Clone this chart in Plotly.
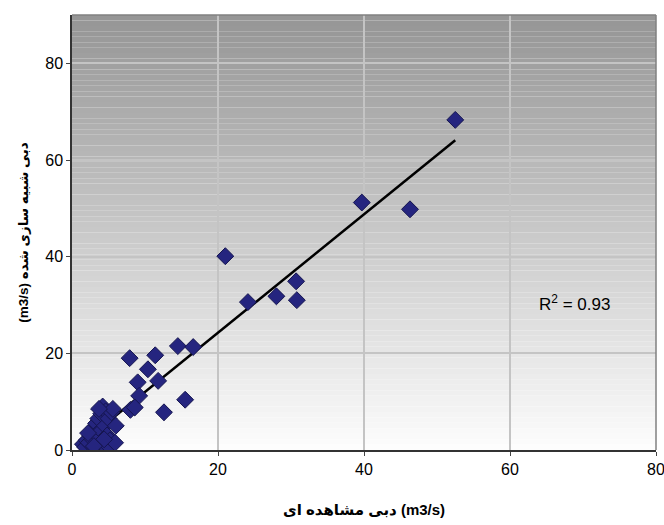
import numpy as np
import plotly.graph_objects as go

# Observed (x) and simulated (y) discharge, m3/s
observed = [52.5, 39.7, 46.3, 21.0, 30.7, 30.8, 28.0, 24.1, 14.5, 16.6,
            11.4, 7.9, 10.4, 9.0, 11.8, 9.2, 15.5, 8.0, 8.6, 12.6,
            1.5, 1.8, 2.0, 2.3, 2.5, 2.8, 3.0, 3.2, 3.3, 3.5,
            3.6, 3.8, 4.0, 4.0, 4.2, 4.3, 4.5, 4.6, 4.8, 5.0,
            5.2, 5.4, 5.6, 5.0, 5.9, 4.4, 3.0, 2.2, 6.0, 3.7]
simulated = [68.3, 51.2, 49.8, 40.1, 34.9, 31.0, 31.8, 30.6, 21.5, 21.3,
             19.6, 19.0, 16.7, 14.0, 14.3, 11.2, 10.4, 8.3, 8.8, 7.8,
             1.2, 0.6, 2.0, 1.5, 3.0, 2.2, 4.5, 1.0, 5.5, 3.5,
             6.5, 2.5, 7.5, 4.0, 9.0, 1.2, 5.0, 8.0, 3.0, 6.5,
             2.0, 7.8, 8.5, 0.8, 1.5, 2.2, 0.8, 3.5, 5.0, 8.5]
r2_label = "R<sup>2</sup> = 0.93"
x_ticks = [0, 20, 40, 60, 80]
y_ticks = [0, 20, 40, 60, 80]

slope, intercept = np.polyfit(observed, simulated, 1)
xl = np.array([min(observed), max(observed)])
yl = slope * xl + intercept

fig = go.Figure()

# gradient background bands
n = 80
top = np.array([150, 150, 150])
bot = np.array([253, 253, 253])
for i in range(n):
    t = i / (n - 1)
    c = (top * (1 - t) + bot * t).astype(int)
    fig.add_shape(type="rect", xref="x domain", yref="y domain",
                  x0=0, x1=1, y0=1 - (i + 1) / n, y1=1 - i / n,
                  fillcolor=f"rgb({c[0]},{c[1]},{c[2]})", line_width=0, layer="below")

# gray top and right frame
fig.add_shape(type="line", xref="x domain", yref="y domain", x0=0, x1=1, y0=1, y1=1,
              line=dict(color="#808080", width=1.5))
fig.add_shape(type="line", xref="x domain", yref="y domain", x0=1, x1=1, y0=0, y1=1,
              line=dict(color="#808080", width=1.5))

fig.add_trace(go.Scatter(x=list(xl), y=list(yl), mode="lines",
                         line=dict(color="black", width=2.5), showlegend=False))
fig.add_trace(go.Scatter(x=observed, y=simulated, mode="markers",
                         marker=dict(symbol="diamond", size=13, color="#25257f",
                                     line=dict(color="#15154f", width=1)),
                         showlegend=False))

fig.add_annotation(x=68.8, y=30.5, text=r2_label, showarrow=False,
                   font=dict(size=17, color="black", family="Liberation Sans, Arial"))

font = "Liberation Sans, Arial, DejaVu Sans"
fig.update_layout(
    width=664, height=525,
    margin=dict(l=72, r=8, t=15, b=75),
    paper_bgcolor="white", plot_bgcolor="white",
    font=dict(family=font, color="black"),
    xaxis=dict(range=[0, 80], tickvals=x_ticks, showgrid=True, gridcolor="#c4c4c4",
               gridwidth=1.5, zeroline=False, showline=True, linecolor="#333333",
               linewidth=1.5, ticks="outside", ticklen=4,
               tickfont=dict(size=16), automargin=False, ticklabeloverflow="allow",
               title=dict(text="<b>دبی مشاهده ای (m3/s)</b>", font=dict(size=15), standoff=28)),
    yaxis=dict(range=[0, 90], tickvals=y_ticks, showgrid=True, gridcolor="#c4c4c4",
               gridwidth=1.5, zeroline=False, showline=True, linecolor="#333333",
               linewidth=1.5, ticks="outside", ticklen=4,
               tickfont=dict(size=16), automargin=False, ticklabeloverflow="allow",
               title=dict(text="<b>(m3/s) دبی شبیه سازی شده</b>", font=dict(size=13.5), standoff=14)),
)

fig.write_html("out.html")
